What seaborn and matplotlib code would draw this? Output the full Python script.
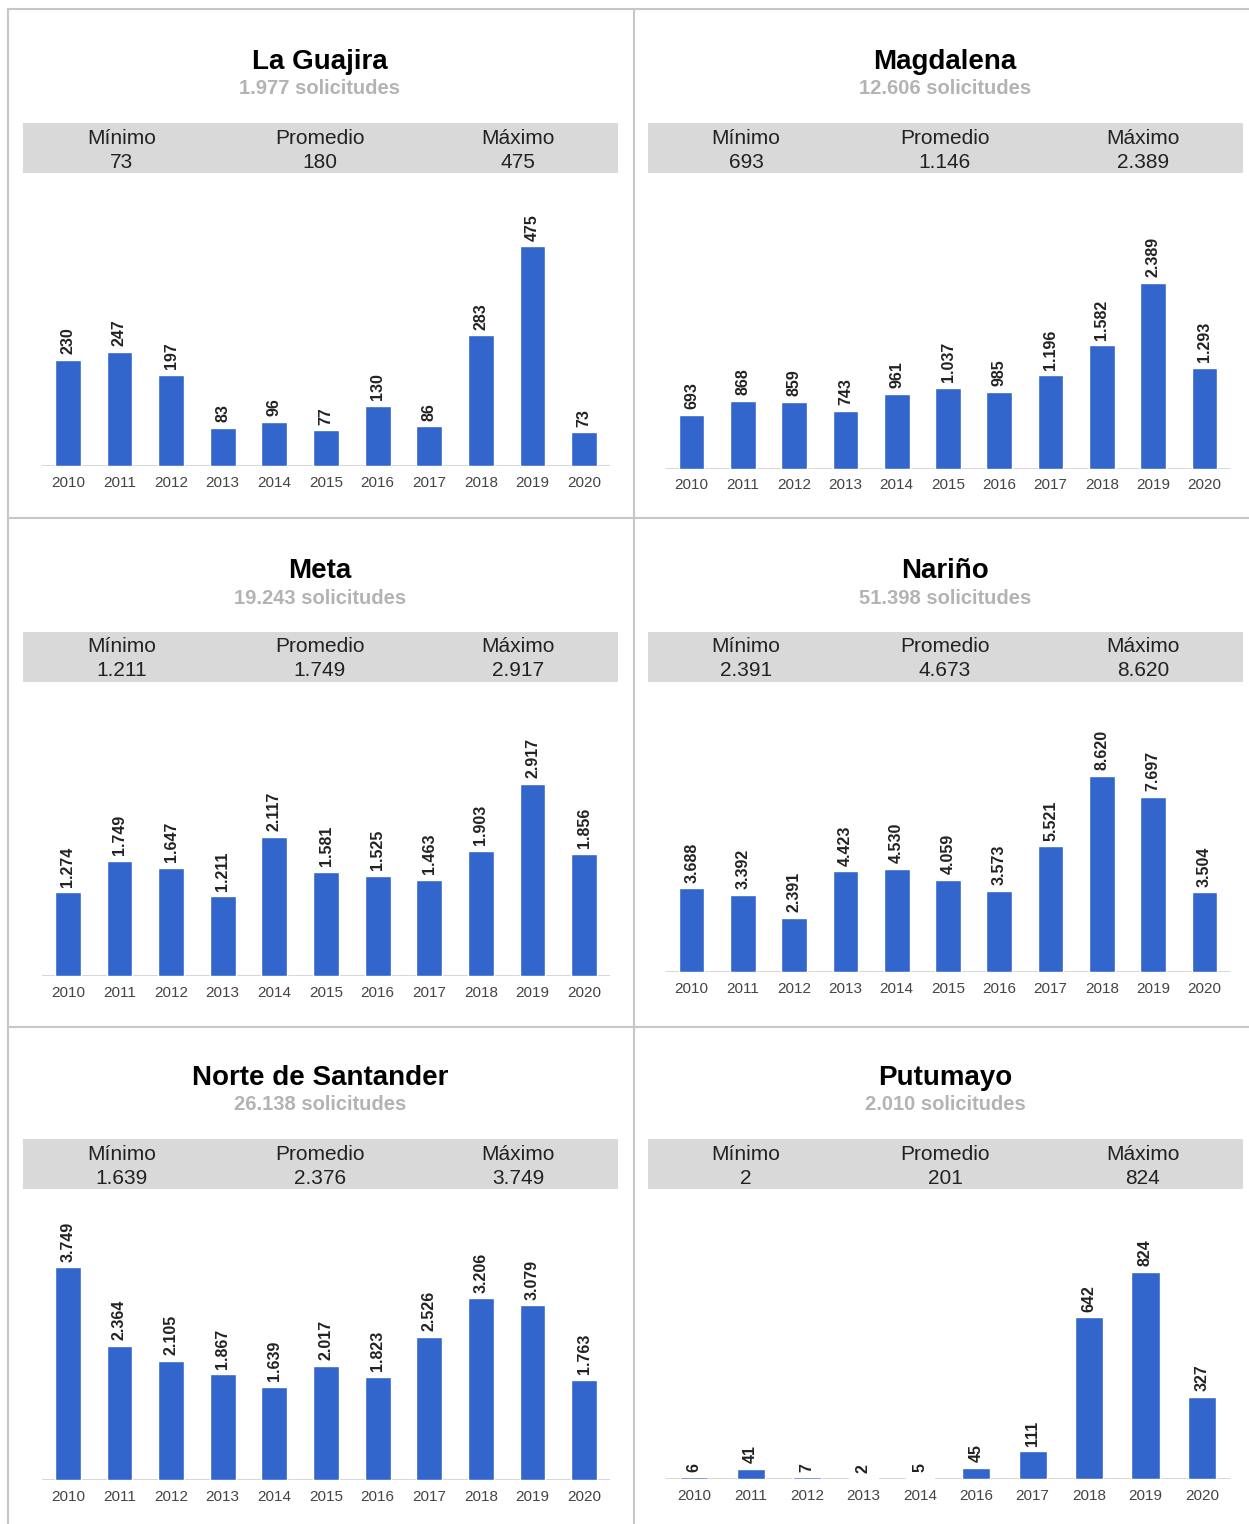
import numpy as np
import seaborn as sns
import matplotlib.pyplot as plt
from matplotlib.patches import Rectangle

# data
years = ["2010", "2011", "2012", "2013", "2014", "2015", "2016", "2017", "2018", "2019", "2020"]
years_putumayo = ["2010", "2011", "2012", "2013", "2014", "2016", "2017", "2018", "2019", "2020"]

guajira = [230, 247, 197, 83, 96, 77, 130, 86, 283, 475, 73]
magdalena = [693, 868, 859, 743, 961, 1037, 985, 1196, 1582, 2389, 1293]
meta = [1274, 1749, 1647, 1211, 2117, 1581, 1525, 1463, 1903, 2917, 1856]
narino = [3688, 3392, 2391, 4423, 4530, 4059, 3573, 5521, 8620, 7697, 3504]
norte = [3749, 2364, 2105, 1867, 1639, 2017, 1823, 2526, 3206, 3079, 1763]
putumayo = [6, 41, 7, 2, 5, 45, 111, 642, 824, 327]

titles = ["La Guajira", "Magdalena", "Meta", "Nariño", "Norte de Santander", "Putumayo"]
series = [guajira, magdalena, meta, narino, norte, putumayo]
categories = [years, years, years, years, years, years_putumayo]
stat_names = ["Mínimo", "Promedio", "Máximo"]

# layout (pixels)
W, H = 1249, 1524
row_off = [0, 0, 509, 509, 1016, 1016]
col = [0, 1, 0, 1, 0, 1]
baselines = [466, 468.5, 976, 972, 1480, 1479]
ymaxs = [597, 3581, 4208, 12006, 4829, 1085]
col_x = [(42, 610), (666, 1230)]
box_x = [(23, 618), (648, 1243)]
stat_x = [(122, 320, 518), (746, 945, 1143)]
title_x = [320, 945]

BLUE = "#3366cc"
GRID = "#c6c6c6"

sns.set_style("white")
plt.rcParams['font.family'] = ['Liberation Sans', 'DejaVu Sans']


def fmt(v):
    return f"{int(round(v)):,}".replace(",", ".")


fig = plt.figure(figsize=(W / 100, H / 100), dpi=100)

# overlay in pixel coordinates for frames, boxes and headers
bg = fig.add_axes([0, 0, 1, 1])
bg.set_xlim(0, W)
bg.set_ylim(H, 0)
bg.axis("off")

lw = 1.5
bg.plot([8, 8], [9, H], color=GRID, lw=lw)
bg.plot([8, W], [9, 9], color=GRID, lw=lw)
bg.plot([634, 634], [9, H], color=GRID, lw=lw)
for y in (518, 1027):
    bg.plot([8, W], [y, y], color=GRID, lw=lw)

for k in range(6):
    vals = np.array(series[k])
    c = col[k]
    off = row_off[k]

    bg.text(title_x[c], off + 62, titles[k], ha="center", va="center",
            fontsize=20, fontweight="bold", color="black")
    bg.text(title_x[c], off + 89, f"{fmt(vals.sum())} solicitudes", ha="center",
            va="center", fontsize=14.5, fontweight="bold", color="#b3b3b3")

    x0, x1 = box_x[c]
    bg.add_patch(Rectangle((x0, off + 123), x1 - x0, 50, color="#d9d9d9", lw=0))
    stats = [vals.min(), vals.mean(), vals.max()]
    for name, val, sx in zip(stat_names, stats, stat_x[c]):
        bg.text(sx, off + 138, name, ha="center", va="center", fontsize=15, color="#222222")
        bg.text(sx, off + 162, fmt(val), ha="center", va="center", fontsize=15, color="#222222")

    # bar chart
    ax_top = off + 190
    ax_l, ax_r = col_x[c]
    ax = fig.add_axes([ax_l / W, 1 - baselines[k] / H, (ax_r - ax_l) / W,
                       (baselines[k] - ax_top) / H])
    ax.set_facecolor("none")
    sns.barplot(x=categories[k], y=vals, color=BLUE, saturation=1, width=0.5, ax=ax)
    ax.set_ylim(0, ymaxs[k])
    ax.set_xlim(-0.5, len(vals) - 0.5)
    ax.bar_label(ax.containers[0], labels=[fmt(v) for v in vals], rotation=90,
                 padding=4, fontsize=11.5, fontweight="bold", color="#222222")
    ax.axhline(0, color="#d0d0d0", lw=1.2, zorder=0)
    sns.despine(ax=ax, left=True, bottom=True)
    ax.set_yticks([])
    ax.set(xlabel=None, ylabel=None)
    ax.tick_params(axis="x", length=0, pad=7, labelsize=11, labelcolor="#444444")

fig.savefig("out.png", dpi=100)
